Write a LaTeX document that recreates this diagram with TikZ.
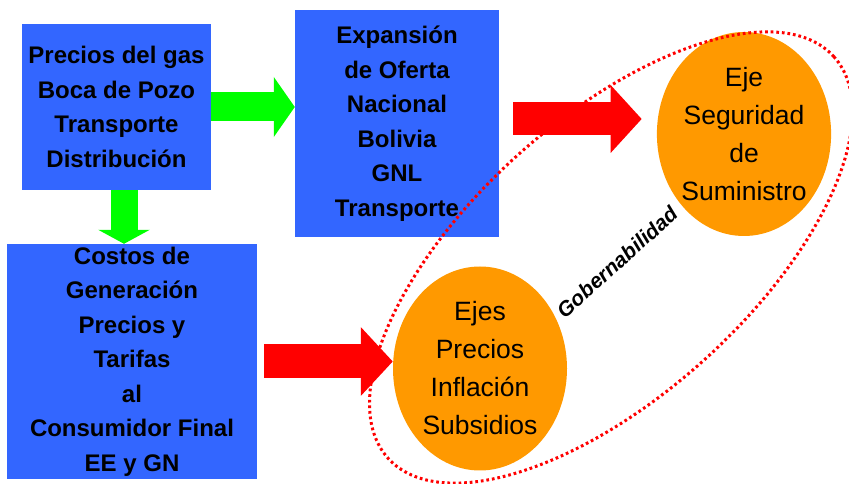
\documentclass[tikz,border=0pt]{standalone}
\usepackage{fontspec}
\setmainfont{Liberation Sans}
\usetikzlibrary{positioning, arrows.meta, shapes.geometric}

\definecolor{boxblue}{HTML}{3366FF}
\definecolor{flowgreen}{HTML}{00FF00}
\definecolor{flowred}{HTML}{FF0000}
\definecolor{ejeorange}{HTML}{FF9900}

\begin{document}
\begin{tikzpicture}[
    x=1pt, y=1pt,
    % Box styles
    base/.style={inner sep=0pt, align=center},
    box/.style={base, fill=boxblue, font=\bfseries\fontsize{24}{34.5}\selectfont},
    eje/.style={base, ellipse, fill=ejeorange, inner xsep=-1pt, minimum width=174pt, minimum height=204pt, font=\fontsize{26.5}{38}\selectfont},
    ring/.style={ellipse, draw=flowred, line width=3pt, dash pattern=on 2.7pt off 2.9pt, minimum width=600pt, minimum height=277pt},
    % Arrow styles
    gflow/.style={draw=flowgreen, line width=29pt, -{Triangle[length=21pt, width=59pt]}},
    rflow/.style={draw=flowred, line width=33pt, -{Triangle[length=31pt, width=66pt]}}
]
    \useasboundingbox (0,0) rectangle (849,484);

    % --- BOXES ---
    \node[box, minimum width=189pt, minimum height=166pt] (precios) at (116.5,377)
        {Precios del gas\\Boca de Pozo\\Transporte\\Distribución};
    \node[box, minimum width=204pt, minimum height=227pt] (oferta) at (397,360.5)
        {Expansión\\de Oferta\\Nacional\\Bolivia\\GNL\\Transporte};
    \node[box, minimum width=250pt, minimum height=235pt] (costos) at (132,122.5)
        {Costos de\\Generación\\Precios y\\Tarifas\\al\\Consumidor Final\\EE y GN};

    % Ejes
    \node[eje] (seguridad) at (744,350) {Eje\\Seguridad\\de\\Suministro};
    \node[eje] (ejes) at (480,115.5) {Ejes\\Precios\\Inflación\\Subsidios};

    % --- ARROWS ---
    \draw[gflow] (precios.east) -- (precios.east -| oferta.west);
    \draw[gflow, line width=27pt, -{Triangle[length=14pt, width=51pt]}]
        ([xshift=7.5pt]precios.south) -- ([xshift=7.5pt]precios.south |- costos.north);
    \draw[rflow, shorten <=14pt, shorten >=15pt]
        ([yshift=4.5pt]oferta.east) -- ([yshift=4.5pt]oferta.east -| seguridad.west);
    \draw[rflow, line width=34pt, -{Triangle[length=32pt, width=67pt]}, shorten <=7pt]
        (costos.east) -- (costos.east -| ejes.west);

    % Gobernabilidad ring
    \node[ring, rotate=42] (gobring) at (611,226.5) {};
    \node[rotate=42, font=\bfseries\itshape\fontsize{21}{24}\selectfont] (gob) at (617,222) {Gobernabilidad};

\end{tikzpicture}
\end{document}
